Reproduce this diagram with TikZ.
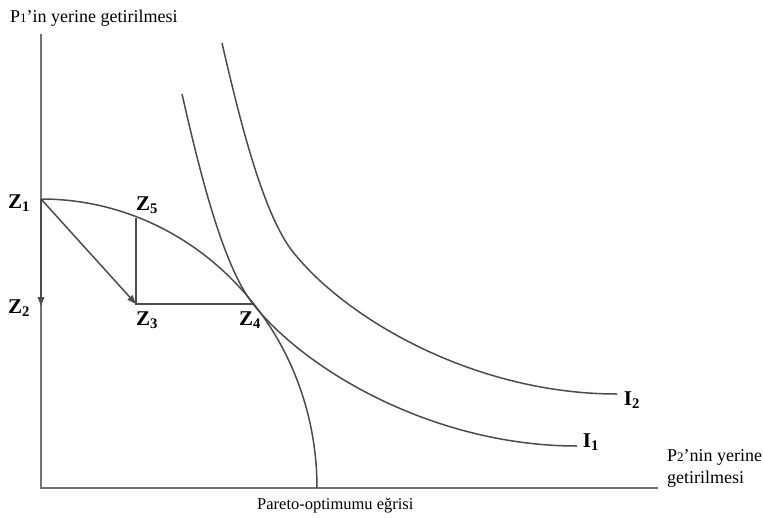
\documentclass[tikz,border=0pt]{standalone}
\usepackage{fontspec}
\setmainfont{Liberation Serif}
\usetikzlibrary{arrows.meta}
\begin{document}
\begin{tikzpicture}[x=1pt,y=-1pt,
  curve/.style={draw=black!70,line width=1.5pt},
  axis/.style={draw=black!55,line width=1.5pt},
  zlab/.style={font=\fontsize{21}{21}\selectfont\bfseries,inner sep=0pt},
  txt/.style={font=\fontsize{18}{18}\selectfont,inner sep=0pt,anchor=base west},
  arr/.style={curve,-{Triangle[length=9pt,width=6.5pt]}}]
\useasboundingbox (0,0) rectangle (763,517);
% points
\coordinate (O) at (41,488);
\coordinate (ytop) at (41,34);
\coordinate (xend) at (658,488);
\coordinate (Z1) at (41,199);
\coordinate (Z2) at (41,306);
\coordinate (Z3) at (136,304);
\coordinate (Z4) at (253,304);
\coordinate (Z5) at (136,218);
\coordinate (I1s) at (182,94);
\coordinate (I1e) at (577,446);
\coordinate (I2s) at (222,43);
\coordinate (I2k) at (293,252);
\coordinate (I2e) at (617,394);
% axes
\draw[axis] (ytop) -- (O) -- (xend);
% pareto curve (quarter ellipse)
\draw[curve] (Z1) arc[start angle=90,end angle=0,x radius=276,y radius=-289];
% indifference curves
\draw[curve] (I1s) .. controls (200,173) and (223,266) .. (Z4)
                   .. controls (308,373) and (437,446) .. (I1e);
\draw[curve] (I2s) .. controls (240,121) and (263,214) .. (I2k)
                   .. controls (348,321) and (477,394) .. (I2e);
% moves
\draw[arr] (Z1) -- (Z2);
\draw[arr] (Z1) -- (Z3);
\draw[curve] (Z5) -- (Z3) -- (Z4);
% labels
\node[zlab] (lZ1) at (19,203) {Z\textsubscript{1}};
\node[zlab] (lZ2) at (19,308) {Z\textsubscript{2}};
\node[zlab] (lZ3) at (147,320) {Z\textsubscript{3}};
\node[zlab] (lZ4) at (250,320) {Z\textsubscript{4}};
\node[zlab] (lZ5) at (147,205) {Z\textsubscript{5}};
\node[zlab] (lI2) at (632,400) {I\textsubscript{2}};
\node[zlab] (lI1) at (591,442) {I\textsubscript{1}};
\node[txt] (ylab) at (10,22) {P{\fontsize{13}{13}\selectfont 1}'in yerine getirilmesi};
\node[txt] (xlab1) at (667,461) {P{\fontsize{13}{13}\selectfont 2}'nin yerine};
\node[txt] (xlab2) at (667,483) {getirilmesi};
\node[txt,font=\fontsize{16.5}{16.5}\selectfont] (plab) at (257,509) {Pareto-optimumu eğrisi};
\end{tikzpicture}
\end{document}
